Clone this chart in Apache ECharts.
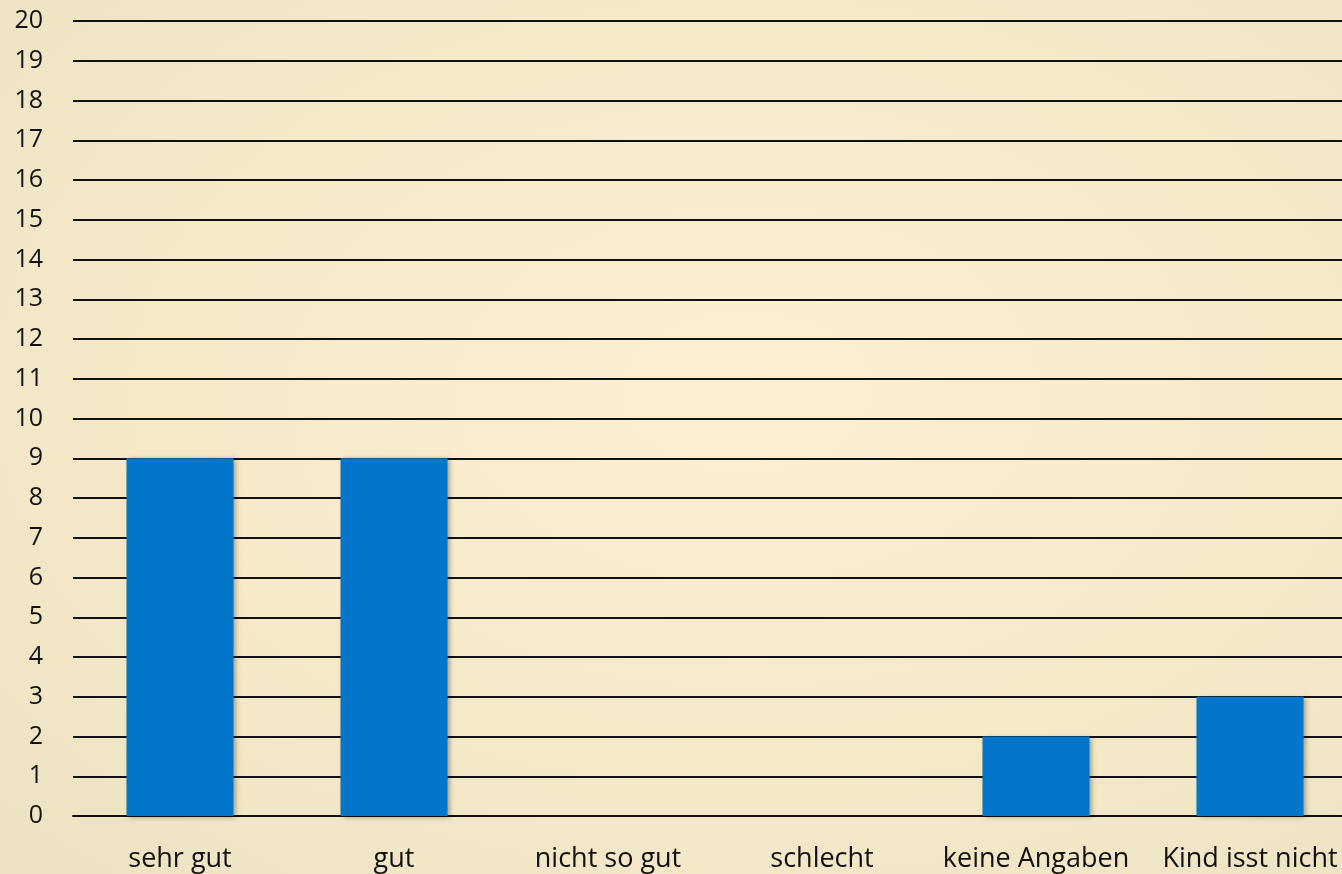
<!DOCTYPE html>
<html>
<head>
<meta charset="utf-8">
<script src="https://cdn.jsdelivr.net/npm/echarts@6/dist/echarts.min.js"></script>
<style>
  html, body { margin: 0; padding: 0; overflow: hidden; width: 1342px; height: 874px; }
  /* etwas breiter als das Fenster: das Raster läuft rechts aus dem Bild */
  #chart {
    width: 1357px; height: 874px;
    background: radial-gradient(ellipse at 55% 45%, #fbf0d2 0%, #f5e9c8 55%, #ece2c2 100%);
  }
</style>
</head>
<body>
<div id="chart"></div>
<script>
// Kategorien und Werte
const categories = ['sehr gut', 'gut', 'nicht so gut', 'schlecht', 'keine Angaben', 'Kind isst nicht'];
const values = [9, 9, 0, 0, 2, 3];

const chart = echarts.init(document.getElementById('chart'), null, { renderer: 'canvas' });

const option = {
  backgroundColor: 'transparent',
  textStyle: { fontFamily: 'Open Sans' },
  grid: { left: 73, right: 0, top: 21, bottom: 58, containLabel: false },
  xAxis: {
    type: 'category',
    data: categories,
    axisLine: { show: true, lineStyle: { color: '#111', width: 2 } },
    axisTick: { show: false },
    axisLabel: { color: '#111', fontSize: 27, margin: 30, interval: 0 }
  },
  yAxis: {
    type: 'value',
    min: 0,
    max: 20,
    interval: 1,
    axisLine: { show: false },
    axisTick: { show: false },
    axisLabel: { color: '#111', fontSize: 25, margin: 30 },
    splitLine: { lineStyle: { color: '#111', width: 2 } }
  },
  series: [{
    type: 'bar',
    data: values,
    barWidth: '50%',
    itemStyle: {
      color: '#0376c9',
      shadowColor: 'rgba(0,0,0,0.35)',
      shadowBlur: 5,
      shadowOffsetX: 2,
      shadowOffsetY: 1
    },
    z: 3
  }]
};

chart.setOption(option);
</script>
</body>
</html>
